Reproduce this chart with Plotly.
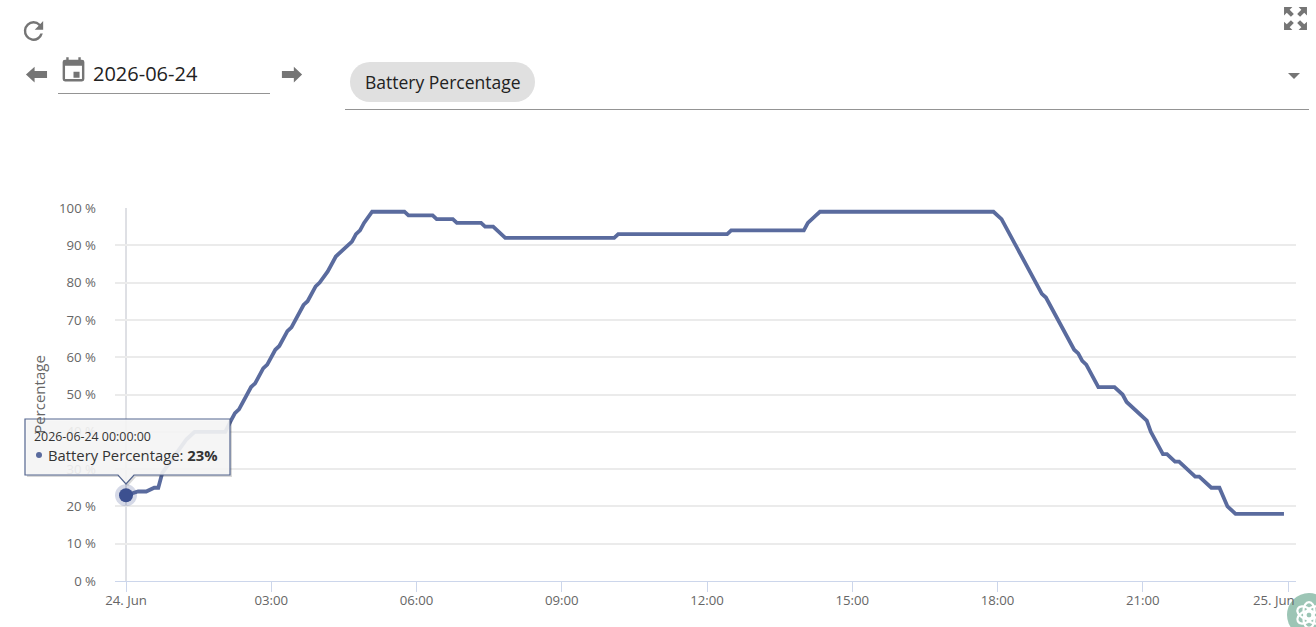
import base64
import plotly.graph_objects as go

DAY = "2026-06-24"
NEXT_DAY = "2026-06-25"
SERIES_NAME = "Battery Percentage"

times = ["00:00","00:15","00:25","00:35","00:40","00:45","00:55","01:05","01:15","01:25","02:03","02:10","02:15","02:20",
         "02:35","02:40","02:50","02:55","03:05","03:10","03:20","03:25","03:40","03:45","03:55","04:00","04:10",
         "04:20","04:25","04:35","04:40","04:45","04:50","04:55","05:05","05:45","05:50","06:20","06:25","06:45",
         "06:50","07:20","07:25","07:35","07:45","07:50","10:05","10:10","12:25","12:30","14:00","14:05","14:15",
         "14:20","17:55","18:05","18:55","19:00","19:35","19:40","19:45","19:50","20:05","20:25","20:35","20:40",
         "21:05","21:10","21:25","21:30","21:40","21:45","22:05","22:10","22:25","22:35","22:45","22:55","23:55"]
values = [23,24,24,25,25,29,32,35,38,40,40,43,45,46,
          52,53,57,58,62,63,67,68,74,75,79,80,83,
          87,88,90,91,93,94,96,99,99,98,98,97,97,
          96,96,95,95,93,92,92,93,93,94,94,96,98,
          99,99,97,77,76,62,61,59,58,52,52,50,48,
          43,40,34,34,32,32,28,28,25,25,20,18,18]

y_ticks = [0,10,20,30,40,50,60,70,80,90,100]
y_labels = [f"{v} %" for v in y_ticks]
x_tick_hours = ["00:00","03:00","06:00","09:00","12:00","15:00","18:00","21:00"]
x_tick_labels = ["24. Jun","03:00","06:00","09:00","12:00","15:00","18:00","21:00",""]
LAST_TICK_LABEL = "25. Jun"

W, H = 1316, 627
L, R, T, B = 115, 1296, 208, 581
FONT = "Open Sans"
LINE = "#5a6b9e"

x = [f"{DAY} {t}:00" for t in times]
x_ticks = [f"{DAY} {t}:00" for t in x_tick_hours] + [f"{NEXT_DAY} 00:00:00"]

def px(v): return (v - L) / (R - L)
def py(v): return (B - v) / (B - T)

def svg(body, vb="0 0 24 24"):
    s = f'<svg xmlns="http://www.w3.org/2000/svg" viewBox="{vb}" preserveAspectRatio="none">{body}</svg>'
    return "data:image/svg+xml;base64," + base64.b64encode(s.encode()).decode()

def img(src, x0, y0, x1, y1):
    return dict(source=src, xref="paper", yref="paper", x=px(x0), y=py(y0), sizex=(x1-x0)/(R-L),
                sizey=(y1-y0)/(B-T), xanchor="left", yanchor="top", sizing="stretch", layer="above")

G = "#757575"
images = [
    img(svg(f'<path fill="{G}" d="M17.65 6.35A7.96 7.96 0 0 0 12 4a8 8 0 1 0 7.73 10h-2.08A6 6 0 1 1 12 6c1.66 0 3.14.69 4.22 1.78L13 11h7V4z"/>'), 19, 16, 48, 46),
    img(svg(f'<path fill="{G}" d="M19 3h-1V1h-2v2H8V1H6v2H5a2 2 0 0 0-2 2v14a2 2 0 0 0 2 2h14a2 2 0 0 0 2-2V5a2 2 0 0 0-2-2zm0 16H5V8h14zM12 13h5v5h-5z"/>'), 59, 56, 88, 85),
    img(svg(f'<path fill="{G}" d="M10 3 L1 12 L10 21 L10 16 L23 16 L23 8 L10 8 Z"/>'), 25, 64, 48, 85),
    img(svg(f'<path fill="{G}" d="M14 3 L23 12 L14 21 L14 16 L1 16 L1 8 L14 8 Z"/>'), 281, 64, 303, 85),
    img(svg('<rect x="0" y="0" width="185" height="40" rx="20" ry="20" fill="#e0e0e0"/>', "0 0 185 40"), 350, 62, 535, 102),
    img(svg(f'<path fill="{G}" d="M0 0H24L12 12Z"/>', "0 0 24 12"), 1288, 73, 1300, 79),
    img(svg(f'<path fill="{G}" d="M1 1h8l-2.6 2.6 4 4-2.8 2.8-4-4L1 9zM23 1v8l-2.6-2.6-4 4-2.8-2.8 4-4L15 1zM1 23v-8l2.6 2.6 4-4 2.8 2.8-4 4L9 23zM23 23h-8l2.6-2.6-4-4 2.8-2.8 4 4L23 15z"/>'), 1283, 6, 1308, 31),
    img(svg('<circle cx="24" cy="24" r="24" fill="#9cc5b5"/><g fill="none" stroke="#fff" stroke-width="2.4">'
            '<ellipse cx="24" cy="19" rx="6" ry="9"/><ellipse cx="24" cy="19" rx="6" ry="9" transform="rotate(60 24 24)"/>'
            '<ellipse cx="24" cy="19" rx="6" ry="9" transform="rotate(120 24 24)"/><ellipse cx="24" cy="19" rx="6" ry="9" transform="rotate(180 24 24)"/>'
            '<ellipse cx="24" cy="19" rx="6" ry="9" transform="rotate(240 24 24)"/><ellipse cx="24" cy="19" rx="6" ry="9" transform="rotate(300 24 24)"/></g>', "0 0 48 48"),
        1287, 593, 1331, 637),
]

def hline(x0, x1, y, color):
    return dict(type="line", xref="paper", yref="paper", x0=px(x0), x1=px(x1), y0=py(y), y1=py(y),
                line=dict(color=color, width=1))

def poly(pts, **kw):
    d = "M" + " L".join(f"{px(a):.5f},{py(b):.5f}" for a, b in pts) + " Z"
    return dict(type="path", xref="paper", yref="paper", path=d, layer="above", **kw)

# tooltip geometry
TX0, TX1, TY0, TY1, TIP = 25, 230, 419, 475, 126
tip_pts = [(TX0,TY0),(TX1,TY0),(TX1,TY1),(TIP+8,TY1),(TIP,TY1+9),(TIP-8,TY1),(TX0,TY1)]
shapes = [
    hline(58, 270, 93.5, "#949494"),
    hline(345, 1309, 109.5, "#949494"),
    dict(type="line", xref="x", yref="paper", x0=x[0], x1=x[0], y0=0, y1=1, layer="below",
         line=dict(color="#d4d6dc", width=1.5)),
    poly([(a+2, b+2) for a, b in tip_pts], fillcolor="rgba(0,0,0,0.15)", line=dict(width=0)),
    poly(tip_pts, fillcolor="rgba(247,247,247,0.90)", line=dict(color="#55668f", width=1.2)),
    dict(type="circle", xref="paper", yref="paper", x0=px(36), x1=px(42), y0=py(452), y1=py(458), layer="above",
         fillcolor=LINE, line=dict(width=0)),
]

def text(xp, yp, s, size, color="#333333", anchor="left"):
    return dict(xref="paper", yref="paper", x=px(xp), y=py(yp), text=s, showarrow=False, xanchor=anchor,
                yanchor="middle", font=dict(family=FONT, size=size, color=color), borderpad=0, borderwidth=0)

annotations = [
    text(93, 73, DAY, 20, "#222222"),
    text(365, 82, SERIES_NAME, 17.5, "#222222"),
    text(34, 436.5, f"{DAY} 00:00:00", 12.4),
    text(47.5, 455, f"{SERIES_NAME}: <b>{values[0]}%</b>", 14.8),
    text(1274, 600, LAST_TICK_LABEL, 13.2, "#666666", anchor="center"),
]

fig = go.Figure()
fig.add_trace(go.Scatter(x=x, y=values, mode="lines", name=SERIES_NAME, hoverinfo="skip",
                         line=dict(color=LINE, width=3.8, shape="linear")))
fig.add_trace(go.Scatter(x=[x[0]], y=[values[0]], mode="markers", hoverinfo="skip",
                         marker=dict(size=22, color="rgba(63,83,145,0.22)", line=dict(width=0))))
fig.add_trace(go.Scatter(x=[x[0]], y=[values[0]], mode="markers", hoverinfo="skip",
                         marker=dict(size=14, color="#3c5090", line=dict(width=0))))

HOURS_L = (126 - L) / 48.42
HOURS_R = (R - 1288) / 48.42
def stamp(hours):
    return int(round(abs(hours) * 3600))
x_range = [f"2026-06-23 {23 - stamp(HOURS_L)//3600:02d}:{59 - (stamp(HOURS_L)%3600)//60:02d}:{59 - stamp(HOURS_L)%60:02d}",
           f"{NEXT_DAY} 00:{stamp(HOURS_R)//60:02d}:{stamp(HOURS_R)%60:02d}"]

fig.update_layout(
    width=W, height=H,
    margin=dict(l=L, r=W-R, t=T, b=H-B, autoexpand=False),
    paper_bgcolor="white", plot_bgcolor="white",
    showlegend=False,
    font=dict(family=FONT, size=13, color="#666666"),
    xaxis=dict(type="date", range=x_range, tickmode="array", tickvals=x_ticks, ticktext=x_tick_labels,
               showgrid=False, zeroline=False, showline=True, linecolor="#ccd6eb", linewidth=1,
               ticks="outside", ticklen=10, tickcolor="#ccd6eb", tickwidth=1, ticklabelstandoff=-3,
               tickfont=dict(family=FONT, size=13.2, color="#666666")),
    yaxis=dict(range=[0, 100], tickmode="array", tickvals=y_ticks, ticktext=y_labels,
               showgrid=True, gridcolor="#ebebeb", gridwidth=1.5, zeroline=False, showline=False,
               ticks="", ticklabelstandoff=18,
               tickfont=dict(family=FONT, size=13.2, color="#666666"),
               title=dict(text="Percentage", standoff=9, font=dict(family=FONT, size=15, color="#666666"))),
    shapes=shapes, annotations=annotations, images=images,
)

fig.write_html("out.html", config=dict(displayModeBar=False, responsive=False),
               post_script="document.body.style.margin='0';document.body.style.overflow='hidden';")
